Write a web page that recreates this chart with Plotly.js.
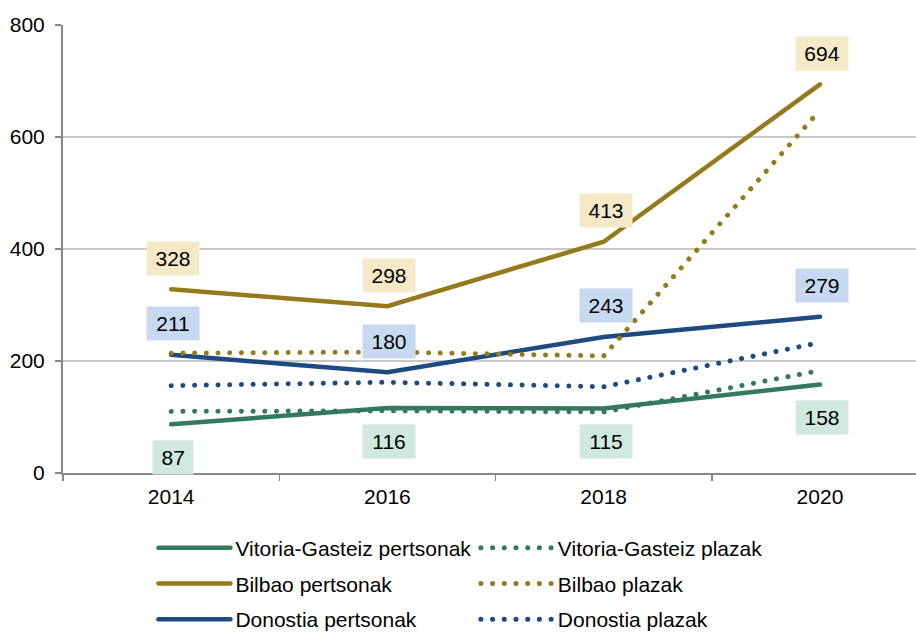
<!DOCTYPE html>
<html><head><meta charset="utf-8">
<script src="https://cdn.plot.ly/plotly-3.0.1.min.js"></script>
<style>
html,body{margin:0;padding:0;background:#fff;}
#chart{width:916px;height:637px;}
.scatterlayer .js-line, .legendlines path { stroke-linecap: round; }
</style></head><body><div id="chart"></div>
<script>
const years = ['2014', '2016', '2018', '2020'];
const vitoriaPertsonak = [87, 116, 115, 158];
const vitoriaPlazak = [110, 111, 109, 183];
const bilbaoPertsonak = [328, 298, 413, 694];
const bilbaoPlazak = [214, 216, 209, 648];
const donostiaPertsonak = [211, 180, 243, 279];
const donostiaPlazak = [156, 162, 154, 233];
const yTicks = [0, 200, 400, 600, 800];

const GREEN = '#33795e', GOLD = '#957a1c', NAVY = '#1f4a80';
const FONT = 'Liberation Sans, Arial, sans-serif';
const DOT = '0.1px,11.6px';

function solid(name, y, color, leg, grp) {
  return {x: years, y: y, name: name, type: 'scatter', mode: 'lines',
    line: {color: color, width: 4.5}, legend: leg, legendgroup: grp, hoverinfo: 'skip'};
}
function dotted(name, y, color, leg, grp) {
  return {x: years, y: y, name: name, type: 'scatter', mode: 'lines',
    line: {color: color, width: 5, dash: DOT}, legend: leg, legendgroup: grp, hoverinfo: 'skip'};
}

const traces = [
  solid('Vitoria-Gasteiz pertsonak', vitoriaPertsonak, GREEN, 'legend', 'a'),
  solid('Bilbao pertsonak', bilbaoPertsonak, GOLD, 'legend', 'b'),
  solid('Donostia pertsonak', donostiaPertsonak, NAVY, 'legend', 'c'),
  dotted('Vitoria-Gasteiz plazak', vitoriaPlazak, GREEN, 'legend2', 'd'),
  dotted('Bilbao plazak', bilbaoPlazak, GOLD, 'legend2', 'e'),
  dotted('Donostia plazak', donostiaPlazak, NAVY, 'legend2', 'f'),
];

const annotations = [];
function labels(vals, bg, shift) {
  vals.forEach((v, i) => {
    const s = String(v);
    annotations.push({x: i, y: v, xref: 'x', yref: 'y', text: s, showarrow: false,
      yshift: shift, xshift: 2, bgcolor: bg, borderpad: 5, width: s.length * 11.7 + 7,
      font: {family: FONT, size: 21, color: '#000'}});
  });
}
labels(bilbaoPertsonak, '#f5e9c8', 31);
labels(donostiaPertsonak, '#c6d9f1', 31);
labels(vitoriaPertsonak, '#cfe9df', -33);

const legendBase = {
  orientation: 'v', yanchor: 'top', xanchor: 'left', y: -0.1217,
  font: {family: FONT, size: 21, color: '#000'}, bgcolor: 'rgba(0,0,0,0)',
  itemwidth: 72, tracegroupgap: 5.5, itemclick: false, itemdoubleclick: false
};

const layout = {
  width: 916, height: 637,
  margin: {l: 63, r: 0, t: 25, b: 164, autoexpand: false},
  paper_bgcolor: '#fff', plot_bgcolor: '#fff',
  font: {family: FONT, size: 21, color: '#000'},
  showlegend: true,
  xaxis: {type: 'category', range: [-0.5, 3.444], tickson: 'boundaries', ticks: 'outside', ticklen: 6,
    tickcolor: '#888', tickwidth: 1.5, showgrid: false, showline: true, linecolor: '#888', linewidth: 2,
    zeroline: false, ticklabelstandoff: 4, tickfont: {family: FONT, size: 21, color: '#000'}, fixedrange: true},
  yaxis: {range: [0, 800], tickvals: yTicks, ticktext: yTicks.map(String), ticks: 'outside', ticklen: 6,
    tickcolor: '#888', tickwidth: 1.5, showgrid: true, gridcolor: '#c8c8c8', gridwidth: 1.5,
    showline: true, linecolor: '#888', linewidth: 2, zeroline: false, ticklabelstandoff: 6,
    tickfont: {family: FONT, size: 21, color: '#000'}, fixedrange: true},
  legend: Object.assign({}, legendBase, {x: 0.106}),
  legend2: Object.assign({}, legendBase, {x: 0.484}),
  annotations: annotations
};

Plotly.newPlot('chart', traces, layout, {displayModeBar: false, staticPlot: true});
</script></body></html>
